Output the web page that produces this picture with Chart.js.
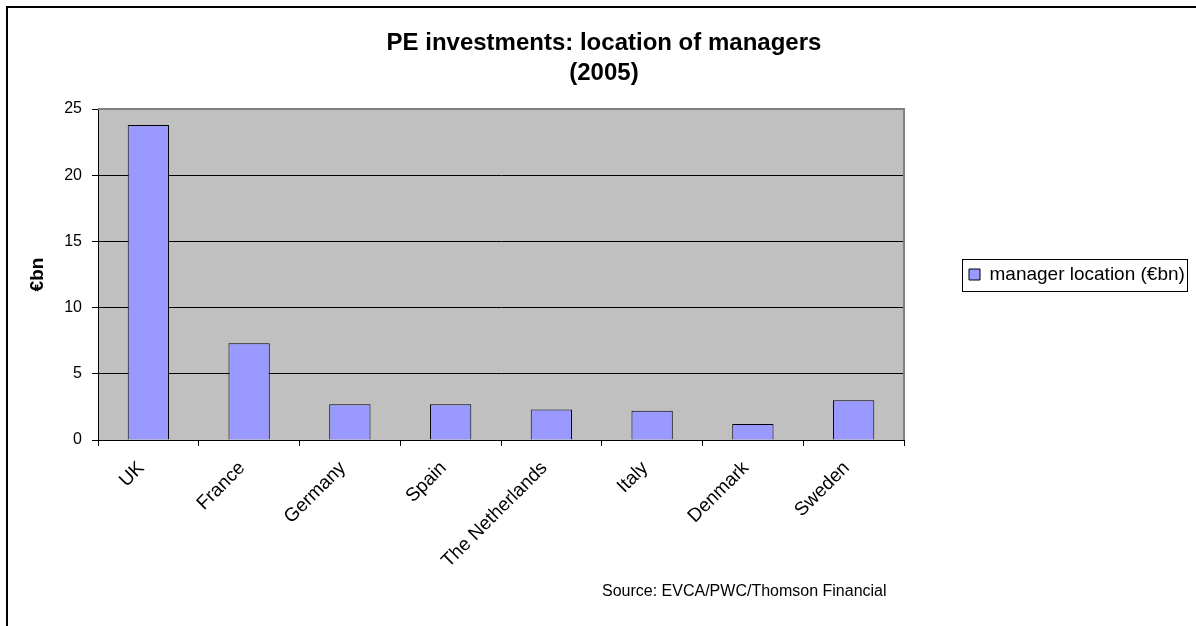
<!DOCTYPE html>
<html>
<head>
<meta charset="utf-8">
<script src="https://cdn.jsdelivr.net/npm/chart.js@4.4.0/dist/chart.umd.min.js"></script>
<style>
  html, body { margin: 0; padding: 0; background: #fff; }
  #wrap { position: relative; width: 1196px; height: 626px; }
  #source { position: absolute; left: 602px; top: 582px; font: 16px "Liberation Sans", Arial, sans-serif; color: #000; white-space: nowrap; }
</style>
</head>
<body>
<div id="wrap">
  <canvas id="barChart" width="1196" height="626"></canvas>
  <div id="source"></div>
</div>
<script>
const countries = ['UK', 'France', 'Germany', 'Spain', 'The Netherlands', 'Italy', 'Denmark', 'Sweden'];
const managerLocation = [23.8, 7.3, 2.7, 2.7, 2.3, 2.2, 1.2, 3.0];
const yTicks = [0, 5, 10, 15, 20, 25];
const seriesLabel = 'manager location (€bn)';
const titleLines = ['PE investments: location of managers', '(2005)'];
const yTitle = '€bn';
const sourceNote = 'Source: EVCA/PWC/Thomson Financial';

const FONT = '"Liberation Sans", Arial, sans-serif';
document.getElementById('source').textContent = sourceNote;

// plot box wanted: left 98, right 904, top 109, bottom 440
const padL = 13;
const legendPad = 65;
const legendFont = 19;
const m = document.createElement('canvas').getContext('2d');
m.font = 'normal ' + legendFont + 'px ' + FONT;
// chart.js adds 10px to a vertical legend's width
const legendW = legendPad + 11 + legendFont / 2 + m.measureText(seriesLabel).width + 10;
const padR = Math.max(0, 1196 - 904 - legendW);

const backdrop = {
   id: 'backdrop',
   beforeDraw(chart) {
      const c = chart.ctx, a = chart.chartArea;
      c.save();
      c.fillStyle = '#fff';
      c.fillRect(0, 0, chart.width, chart.height);
      c.fillStyle = '#000';
      c.fillRect(6, 6, 2, chart.height);
      c.fillRect(6, 6, chart.width, 2);
      c.fillStyle = '#C0C0C0';
      c.fillRect(a.left, a.top, a.right - a.left, a.bottom - a.top);
      c.restore();
   },
   afterDraw(chart) {
      const c = chart.ctx, a = chart.chartArea;
      c.save();
      c.strokeStyle = '#808080';
      c.lineWidth = 2;
      c.beginPath();
      c.moveTo(a.left, a.top);
      c.lineTo(a.right, a.top);
      c.lineTo(a.right, a.bottom);
      c.stroke();
      const hb = chart.legend.legendHitBoxes[0];
      if (hb) {
         c.strokeStyle = '#000';
         c.lineWidth = 1;
         c.strokeRect(Math.round(hb.left - 7) + 0.5, Math.round(hb.top + hb.height / 2 - 16) + 0.5,
            Math.round(hb.width + 9), 32);
      }
      c.restore();
   }
};

const ctx = document.getElementById('barChart').getContext('2d');
const barChart = new Chart(ctx, {
   type: 'bar',
   data: {
      labels: countries,
      datasets: [{
         label: seriesLabel,
         data: managerLocation,
         backgroundColor: '#9999FF',
         borderColor: '#000',
         borderWidth: 1,
         barPercentage: 0.41,
         categoryPercentage: 1.0
      }]
   },
   options: {
      responsive: false,
      animation: false,
      layout: { padding: { left: padL, right: padR, top: 0, bottom: 0 } },
      plugins: {
         title: {
            display: true,
            text: titleLines,
            color: '#000',
            font: { family: FONT, size: 24, weight: 'bold', lineHeight: 1.25 },
            padding: { top: 28, bottom: 21 }
         },
         legend: {
            position: 'right',
            fullSize: false,
            labels: {
               color: '#000',
               font: { family: FONT, size: legendFont },
               boxWidth: 11,
               boxHeight: 11,
               padding: legendPad
            }
         },
         tooltip: { enabled: false }
      },
      scales: {
         x: {
            afterFit(scale) { scale.height = 626 - 440; },
            grid: { display: true, drawOnChartArea: false, drawTicks: true, tickLength: 6, color: '#000', offset: true },
            border: { color: '#000', width: 1 },
            ticks: {
               color: '#000',
               font: { family: FONT, size: 19 },
               minRotation: 45,
               maxRotation: 45,
               autoSkip: false,
               labelOffset: -7,
               padding: 11
            }
         },
         y: {
            min: 0,
            max: 25,
            afterFit(scale) { scale.width = 98 - padL; },
            afterBuildTicks(scale) { scale.ticks = yTicks.map(v => ({ value: v })); },
            grid: { color: '#000', tickLength: 6 },
            border: { color: '#000', width: 1 },
            ticks: {
               color: '#000',
               font: { family: FONT, size: 16 },
               padding: 10
            },
            title: {
               display: true,
               text: yTitle,
               color: '#000',
               font: { family: FONT, size: 19, weight: 'bold', lineHeight: 1 },
               padding: { top: 15, bottom: 0 }
            }
         }
      }
   },
   plugins: [backdrop]
});
</script>
</body>
</html>
